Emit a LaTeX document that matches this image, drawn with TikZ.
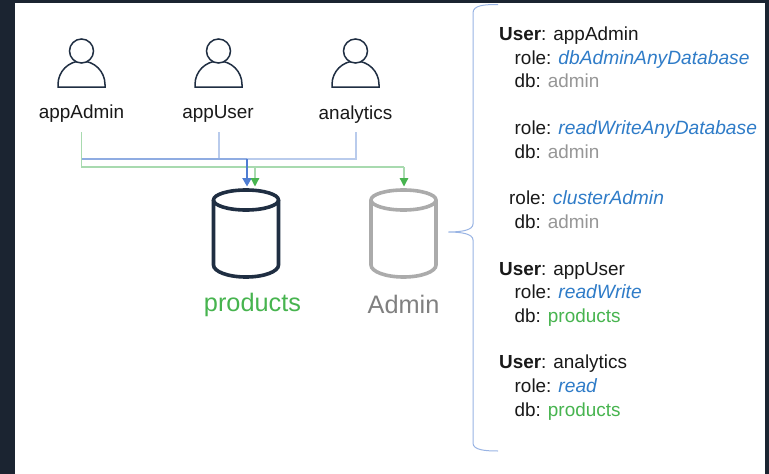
\documentclass[tikz,border=0pt]{standalone}
\usepackage{fontspec}
\setmainfont{Liberation Sans}
\usetikzlibrary{arrows.meta}
\usepackage{xcolor}
\definecolor{pagedark}{HTML}{1B2431}
\definecolor{navy}{HTML}{1F2E42}
\definecolor{linkblue}{HTML}{B9CBEC}
\definecolor{tipblue}{HTML}{4F7DD2}
\definecolor{linkgreen}{HTML}{A8DAAF}
\definecolor{tipgreen}{HTML}{47B44F}
\definecolor{rolecol}{HTML}{2F7CC8}
\definecolor{dbgray}{HTML}{969696}
\definecolor{cylgray}{HTML}{ABABAB}
\tikzset{
	label/.style={inner sep=0pt, font=\fontsize{18.9}{22}\selectfont, text=black!90},
	info/.style={label, anchor=base west},
	dbname/.style={inner sep=0pt, font=\fontsize{25.3}{30}\selectfont},
	person/.style={draw=navy, line width=1.5pt},
	link/.style={line width=1.3pt},
	greentip/.style={linkgreen, link, -{Triangle[length=8.5pt, width=8.5pt, tipgreen]}},
}
% one database drum: centre x, colour
\newcommand{\drum}[2]{
	\draw [#2, line width=3.6pt] (#1,200) ellipse (32.5 and 10);
	\draw [#2, line width=3.6pt] (#1-32.5,200) -- (#1-32.5,265) arc (180:0:32.5 and 12) -- (#1+32.5,200);
}
\newcommand{\role}[1]{\textcolor{rolecol}{\fontsize{19.2}{22}\selectfont\textit{#1}}}
\begin{document}
\begin{tikzpicture}[x=1pt, y=-1pt]
	\useasboundingbox (0,0) rectangle (769,474);
	\fill [pagedark] (0,0) rectangle (769,474);
	\fill [white] (15,3) rectangle (764.5,474);

	\foreach \px in {81.5,218.5,355.5} {
		\draw [person] (\px-23.5,87) -- (\px-23.5,84.5) arc (180:360:23.5 and 23.5) -- (\px+23.5,87) -- cycle;
		\draw [person, fill=white] (\px,51) circle (12);
	}
	\node [label] (appAdmin) at (81.5,114) {appAdmin};
	\node [label] (appUser) at (218,114) {appUser};
	\node [label] (analytics) at (355.5,114.5) {analytics};

	\drum{246}{navy}
	\drum{403.5}{cylgray}
	\node [dbname, text=tipgreen] (products) at (252.5,305) {products};
	\node [dbname, text=black!50] (admin) at (403.5,304) {Admin};

	\coordinate (A) at (81.5,132);
	\coordinate (U) at (219,132);
	\coordinate (N) at (356,132);
	\coordinate (P) at (247,186.5);
	\coordinate (G) at (255,186.5);
	\coordinate (H) at (404,186.5);
	\draw [linkblue, link] (U) -- (219,159);
	\draw [linkblue, link] (N) -- (356,159) -- (247,159);
	\draw [linkblue!60!tipblue, link] (81.5,159) -- (247,159);
	\draw [linkgreen, link] (A) -- (81.5,167) -- (404,167);
	\draw [-{Triangle[length=8.5pt, width=9pt]}, tipblue, line width=2pt] (247,159) -- (P);
	\draw [greentip] (255,167) -- (G);
	\draw [greentip] (404,167) -- (H);

	% brace
	\draw [linkblue!70!tipblue, line width=1pt] (498,4.5) .. controls (485,4.5) and (473,5) .. (473,13) -- (473,224) .. controls (473,230) and (462,232) .. (448.5,232) .. controls (462,232) and (473,234) .. (473,240) -- (473,443) .. controls (473,450) and (485,451) .. (498,451);

	\node [info] (u1) at (499,40.5) {\textbf{User}: appAdmin};
	\node [info] (r1) at (514.5,64) {role: \role{dbAdminAnyDatabase}};
	\node [info] (d1) at (514.5,87.5) {db: \textcolor{dbgray}{admin}};
	\node [info] (r2) at (514.5,134.5) {role: \role{readWriteAnyDatabase}};
	\node [info] (d2) at (514.5,158) {db: \textcolor{dbgray}{admin}};
	\node [info] (r3) at (509,204.5) {role: \role{clusterAdmin}};
	\node [info] (d3) at (514.5,228) {db: \textcolor{dbgray}{admin}};
	\node [info] (u2) at (499,275.5) {\textbf{User}: appUser};
	\node [info] (r4) at (514.5,298.5) {role: \role{readWrite}};
	\node [info] (d4) at (514.5,322) {db: \textcolor{tipgreen}{products}};
	\node [info] (u3) at (499,368.5) {\textbf{User}: analytics};
	\node [info] (r5) at (514.5,392) {role: \role{read}};
	\node [info] (d5) at (514.5,416) {db: \textcolor{tipgreen}{products}};
\end{tikzpicture}
\end{document}
